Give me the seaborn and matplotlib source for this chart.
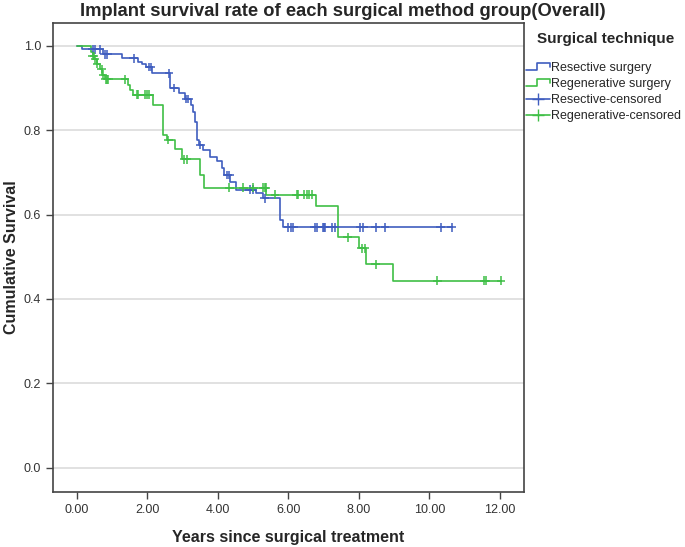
import numpy as np
import pandas as pd
import seaborn as sns
import matplotlib.pyplot as plt
from matplotlib.lines import Line2D
from matplotlib.legend_handler import HandlerBase

# Kaplan-Meier steps: event time (years) -> survival after the drop
res_times = [0.14, 0.75, 1.28, 1.75, 1.84, 1.98, 2.13, 2.64, 2.91, 3.07, 3.23, 3.29, 3.35,
             3.40, 3.48, 3.59, 3.78, 3.97, 4.11, 4.17, 4.35, 4.53, 5.08, 5.29, 5.76, 5.85]
res_surv = [0.992, 0.980, 0.971, 0.963, 0.957, 0.950, 0.935, 0.900, 0.888, 0.874, 0.860, 0.844, 0.820,
            0.777, 0.765, 0.753, 0.737, 0.726, 0.710, 0.694, 0.678, 0.659, 0.651, 0.639, 0.587, 0.570]
res_censored = [0.46, 0.52, 0.66, 0.80, 0.87, 1.62, 2.05, 2.10, 2.62, 2.76, 3.10, 3.17, 3.50,
                4.27, 4.33, 4.91, 4.99, 5.33, 6.00, 6.09, 6.14, 6.75, 6.80, 6.97, 7.01, 7.04,
                7.23, 7.32, 8.03, 8.12, 8.48, 8.74, 10.32, 10.63]

reg_times = [0.40, 0.45, 0.50, 0.58, 0.65, 0.72, 0.80, 1.46, 1.51, 1.59, 2.17, 2.45, 2.55,
             2.79, 3.00, 3.49, 3.61, 5.38, 6.78, 7.42, 8.01, 8.20, 8.97]
reg_surv = [0.985, 0.976, 0.968, 0.958, 0.945, 0.932, 0.921, 0.907, 0.896, 0.884, 0.860, 0.789, 0.777,
            0.755, 0.731, 0.694, 0.664, 0.647, 0.621, 0.546, 0.520, 0.482, 0.443]
reg_censored = [0.45, 0.49, 0.52, 0.58, 0.71, 0.75, 0.82, 0.86, 0.90, 1.37, 1.70, 1.75, 1.94,
                2.00, 2.06, 2.60, 3.05, 3.12, 4.33, 4.72, 5.01, 5.29, 5.34, 5.36, 5.62, 6.24,
                6.28, 6.45, 6.52, 6.59, 6.66, 7.68, 8.08, 8.17, 8.48, 10.22, 11.55, 11.60, 12.03]

groups = ["Resective surgery", "Regenerative surgery"]
colors = {"Resective surgery": "#3f5dbf", "Regenerative surgery": "#3fbf46"}


def step_frame(name, times, surv, censored):
    end = max(censored[-1], times[-1])
    t = [0.0] + list(times) + [end]
    s = [1.0] + list(surv) + [surv[-1]]
    return pd.DataFrame({"time": t, "surv": s, "group": name})


def censor_frame(name, times, surv, censored):
    levels = np.array([1.0] + list(surv))
    idx = np.searchsorted(np.array(times), np.array(censored), side="right")
    return pd.DataFrame({"time": censored, "surv": levels[idx], "group": name})


curves = pd.concat([step_frame(groups[0], res_times, res_surv, res_censored),
                    step_frame(groups[1], reg_times, reg_surv, reg_censored)])
marks = pd.concat([censor_frame(groups[0], res_times, res_surv, res_censored),
                   censor_frame(groups[1], reg_times, reg_surv, reg_censored)])

sns.set_theme(style="white")
plt.rcParams['font.family'] = ['Liberation Sans', 'DejaVu Sans']

fig = plt.figure(figsize=(6.85, 5.47), dpi=100)
ax = fig.add_axes([53 / 685, 1 - 491.7 / 547, 471 / 685, 469 / 547])

sns.lineplot(data=curves, x="time", y="surv", hue="group", palette=colors,
             estimator=None, sort=False, drawstyle="steps-post", linewidth=1.2,
             legend=False, ax=ax)
sns.scatterplot(data=marks, x="time", y="surv", hue="group", palette=colors,
                marker="+", s=40, linewidth=1.1, legend=False, ax=ax, zorder=3)

ax.set_xlim(-0.67, 12.68)
ax.set_ylim(-0.057, 1.055)
ax.set_xticks(np.arange(0, 13, 2))
ax.set_yticks(np.arange(0, 1.01, 0.2))
ax.set_xticklabels([f"{v:.2f}" for v in np.arange(0, 13, 2)])
ax.set_yticklabels([f"{v:.1f}" for v in np.arange(0, 1.01, 0.2)])
ax.yaxis.grid(True, color="#dcdcdc", linewidth=1.2)
ax.set_axisbelow(True)
for sp in ax.spines.values():
    sp.set_color("#444444")
    sp.set_linewidth(1.2)
ax.tick_params(axis="both", direction="out", length=5, width=1, color="#444444",
               labelsize=9, labelcolor="#333333", bottom=True, left=True)

ax.set_xlabel("Years since surgical treatment", fontsize=11.5, fontweight="bold")
ax.set_ylabel("Cumulative Survival", fontsize=11.5, fontweight="bold")
ax.xaxis.set_label_coords(0.5, -0.082)
ax.xaxis.label.set_va("top")
ax.yaxis.label.set_va("top")
ax.yaxis.set_label_coords(-0.105, 0.5)

fig.text(0.5, 1 - 3 / 547, "Implant survival rate of each surgical method group(Overall)",
         ha="center", va="top", fontsize=13.2, fontweight="bold")

# legend title sits indented from the legend entries
fig.text(537 / 685, 1 - 43 / 547, "Surgical technique", ha="left", va="baseline",
         fontsize=11, fontweight="bold")


class StepHandler(HandlerBase):
    def create_artists(self, legend, orig_handle, xdescent, ydescent, width, height, fontsize, trans):
        x0, w = -xdescent, width
        y0, h = -ydescent, height
        xs = [x0, x0 + 0.45 * w, x0 + 0.45 * w, x0 + w, x0 + w]
        ys = [y0 + 0.1 * h, y0 + 0.1 * h, y0 + 0.9 * h, y0 + 0.9 * h, y0 + 0.5 * h]
        ln = Line2D(xs, ys, color=orig_handle.get_color(), linewidth=1.2, transform=trans)
        return [ln]


step_res = Line2D([], [], color=colors[groups[0]])
step_reg = Line2D([], [], color=colors[groups[1]])
cen_res = Line2D([0], [0], color=colors[groups[0]], marker="+", markersize=9, linewidth=1.2)
cen_reg = Line2D([0], [0], color=colors[groups[1]], marker="+", markersize=9, linewidth=1.2)

leg = ax.legend([step_res, step_reg, cen_res, cen_reg],
                ["Resective surgery", "Regenerative surgery", "Resective-censored", "Regenerative-censored"],
                handler_map={step_res: StepHandler(), step_reg: StepHandler()},
                loc="upper left",
                bbox_to_anchor=(526 / 685, 1 - 62 / 547), bbox_transform=fig.transFigure,
                frameon=False, fontsize=9, handlelength=1.9, handletextpad=0.1,
                labelspacing=0.33, borderaxespad=0, borderpad=0)

fig.savefig("out.png", dpi=100)
